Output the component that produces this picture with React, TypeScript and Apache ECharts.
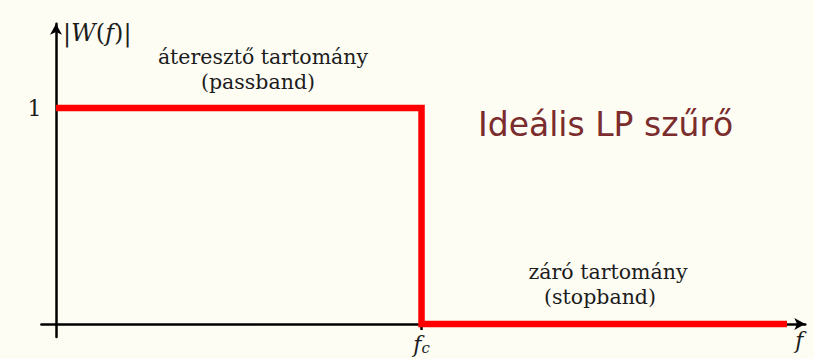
import React, { useEffect, useRef } from "react";
import * as echarts from "echarts";

// Ideal low-pass filter magnitude response |W(f)|, normalised so f_c = 1
const responseF = [0, 1, 1, 2];
const responseW = [1, 1, 0, 0];
const cutoffTicks = [1];
const magnitudeTicks = [1];

const passbandLines = ["áteresztő tartomány", "(passband)"];
const stopbandLines = ["záró tartomány", "(stopband)"];
const titleText = "Ideális LP szűrő";

const SERIF = "'DejaVu Serif', 'Liberation Serif', serif";
const INK = "#1c1c1c";

export default function App() {
  const ref = useRef<HTMLDivElement>(null);

  useEffect(() => {
    if (!ref.current) return;
    const chart = echarts.init(ref.current, undefined, { renderer: "svg" });

    const data = responseF.map((f, i) => [f, responseW[i]]);

    chart.setOption({
      animation: false,
      backgroundColor: "#fdfdf4",
      grid: { left: 41.4, right: 8.7, top: 23.8, bottom: 22, containLabel: false, outerBoundsMode: "none" },
      xAxis: {
        type: "value",
        min: -0.04,
        max: 2.05,
        splitLine: { show: false },
        axisLine: {
          onZero: true,
          lineStyle: { color: "#000", width: 2.5 },
          symbol: ["none", "arrow"],
          symbolSize: [9, 11],
        },
        axisTick: {
          show: true,
          customValues: cutoffTicks,
          length: 6,
          lineStyle: { color: "#000", width: 2.5 },
        },
        axisLabel: {
          customValues: cutoffTicks,
          margin: -6,
          verticalAlign: "top",
          formatter: () => "{i|f}{s|c}",
          rich: {
            i: { fontFamily: SERIF, fontStyle: "italic", fontSize: 22, color: INK, lineHeight: 24, verticalAlign: "bottom" },
            s: { fontFamily: SERIF, fontStyle: "italic", fontSize: 15, color: INK, lineHeight: 24, verticalAlign: "bottom" },
          },
        },
        name: "f",
        nameLocation: "end",
        nameGap: -6,
        nameTextStyle: {
          fontFamily: SERIF,
          fontStyle: "italic",
          fontSize: 22,
          color: INK,
          align: "center",
          verticalAlign: "top",
          padding: [5, 0, 0, 0],
        },
      },
      yAxis: {
        type: "value",
        min: -0.06,
        max: 1.39,
        splitLine: { show: false },
        axisLine: {
          onZero: true,
          lineStyle: { color: "#000", width: 2.5 },
          symbol: ["none", "arrow"],
          symbolSize: [9, 11],
        },
        axisTick: { show: false },
        axisLabel: {
          customValues: magnitudeTicks,
          margin: 0,
          fontFamily: SERIF,
          fontSize: 22,
          color: INK,
          formatter: (v: number) => String(v),
        },
        name: "{n||}{i|W}{n|(}{i|f}{n|)|}",
        nameLocation: "end",
        nameGap: -9,
        nameTextStyle: {
          align: "left",
          verticalAlign: "middle",
          padding: [0, 0, 0, 7],
          rich: {
            n: { fontFamily: SERIF, fontSize: 24, color: INK },
            i: { fontFamily: SERIF, fontSize: 24, fontStyle: "italic", color: INK },
          },
        },
      },
      series: [
        {
          type: "line",
          data,
          symbol: "none",
          lineStyle: { color: "#ff0000", width: 6.5, join: "miter", cap: "butt" },
          z: 5,
        },
      ],
      graphic: [
        { type: "text", left: 478, top: 108, style: { text: titleText, fontFamily: "'DejaVu Sans', sans-serif", fontSize: 33, fill: "#7b2c2c" } },
        { type: "text", x: 263, y: 57, style: { text: passbandLines[0], fontFamily: SERIF, fontSize: 20.5, fill: INK, align: "center", verticalAlign: "middle" } },
        { type: "text", x: 258, y: 82, style: { text: passbandLines[1], fontFamily: SERIF, fontSize: 20.5, fill: INK, align: "center", verticalAlign: "middle" } },
        { type: "text", x: 608, y: 272, style: { text: stopbandLines[0], fontFamily: SERIF, fontSize: 20.5, fill: INK, align: "center", verticalAlign: "middle" } },
        { type: "text", x: 600, y: 297, style: { text: stopbandLines[1], fontFamily: SERIF, fontSize: 20.5, fill: INK, align: "center", verticalAlign: "middle" } },
      ],
    });

    return () => chart.dispose();
  }, []);

  return (
    <div
      ref={ref}
      style={{ position: "fixed", left: 0, top: 0, width: 814, height: 359 }}
    />
  );
}
